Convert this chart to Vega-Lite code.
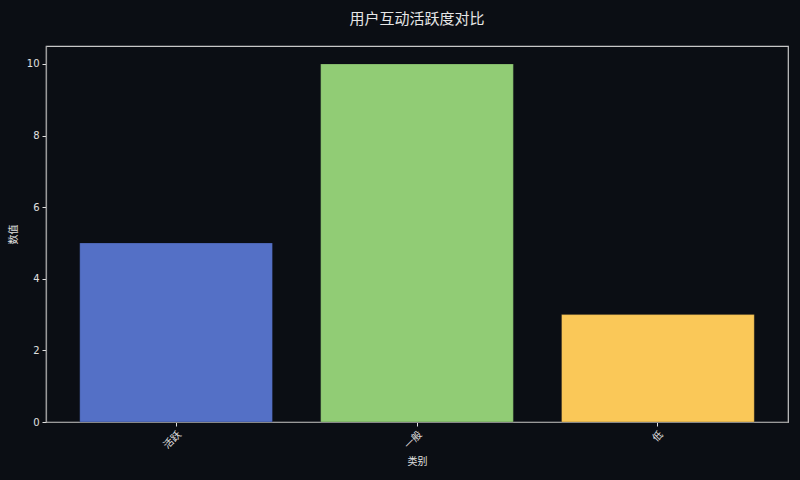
{
  "$schema": "https://vega.github.io/schema/vega-lite/v6.json",
  "width": 742,
  "height": 376,
  "autosize": {"type": "none"},
  "padding": {"left": 46, "top": 46, "right": 12, "bottom": 58},
  "background": "#0b0e14",
  "title": {
    "text": "用户互动活跃度对比",
    "font": "Noto Sans CJK SC",
    "fontSize": 15,
    "fontWeight": "normal",
    "color": "#e6e6e6",
    "anchor": "middle",
    "offset": 19
  },
  "data": {
    "values": [
      {"类别": "活跃", "数值": 5},
      {"类别": "一般", "数值": 10},
      {"类别": "低", "数值": 3}
    ]
  },
  "mark": {"type": "bar", "stroke": "#0b0e14", "strokeOpacity": 0.3, "strokeWidth": 0.8},
  "encoding": {
    "x": {
      "field": "类别",
      "type": "nominal",
      "sort": null,
      "scale": {"paddingInner": 0.2, "paddingOuter": 0.14},
      "axis": {
        "labelAngle": -45,
        "labelAlign": "right",
        "labelBaseline": "top",
        "titlePadding": 6
      }
    },
    "y": {
      "field": "数值",
      "type": "quantitative",
      "scale": {"domain": [0, 10.5], "nice": false},
      "axis": {"values": [0, 2, 4, 6, 8, 10], "titlePadding": 8}
    },
    "color": {
      "field": "类别",
      "type": "nominal",
      "sort": null,
      "scale": {
        "domain": ["活跃", "一般", "低"],
        "range": ["#5470c6", "#91cc75", "#fac858"]
      },
      "legend": null
    }
  },
  "config": {
    "font": "Noto Sans CJK SC",
    "view": {"stroke": "#c8c8c8", "strokeWidth": 1.2},
    "axis": {
      "grid": false,
      "domainColor": "#9a9a9a",
      "domainWidth": 1.2,
      "tickColor": "#e0e0e0",
      "tickSize": 4,
      "labelColor": "#e0e0e0",
      "labelFontSize": 10,
      "labelFont": "DejaVu Sans",
      "titleColor": "#e0e0e0",
      "titleFontSize": 10,
      "titleFontWeight": "normal",
      "labelPadding": 3
    },
    "axisX": {"labelFont": "Noto Sans CJK SC"}
  }
}
